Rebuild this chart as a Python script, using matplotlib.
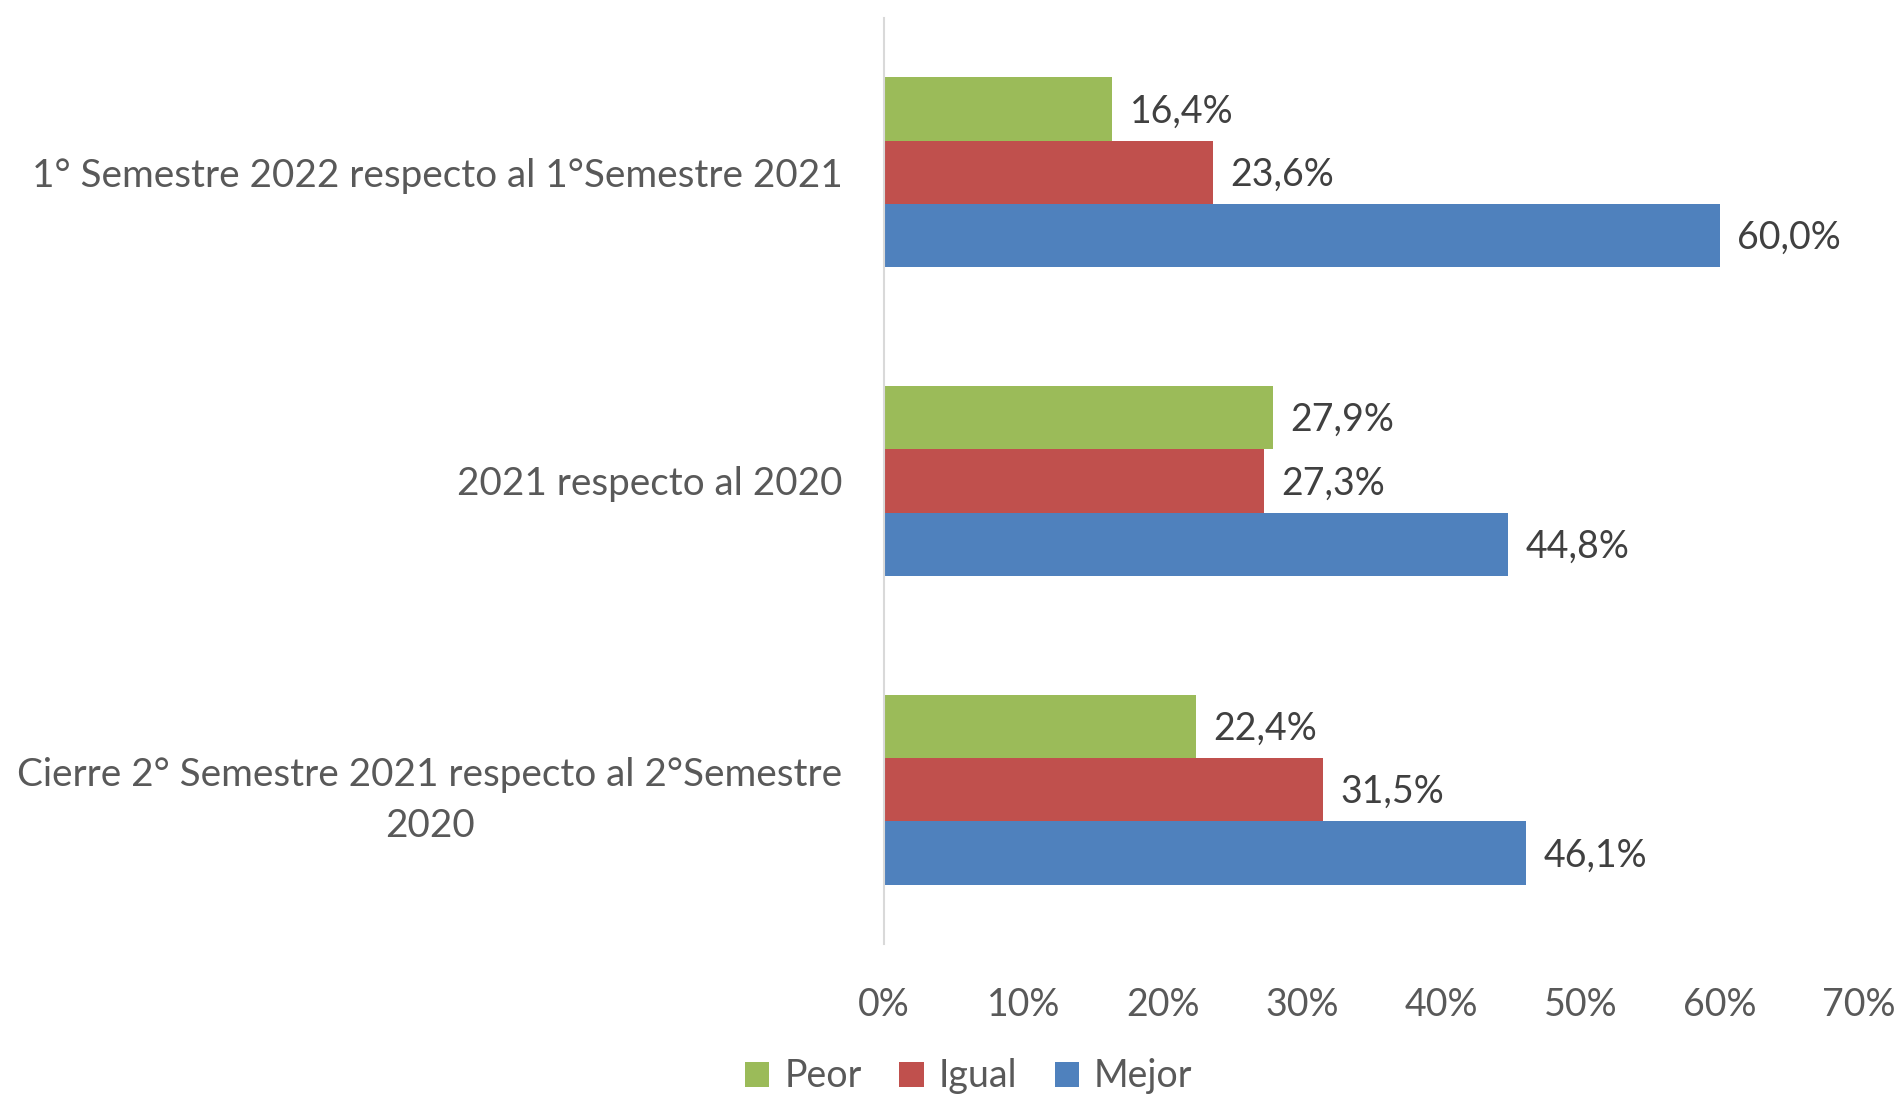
import matplotlib
matplotlib.use("Agg")
import matplotlib.pyplot as plt
import numpy as np

categories = ["1° Semestre 2022 respecto al 1°Semestre 2021",
              "2021 respecto al 2020",
              "Cierre 2° Semestre 2021 respecto al 2°Semestre\n2020"]
series_names = ["Peor", "Igual", "Mejor"]
peor = [16.4, 27.9, 22.4]
igual = [23.6, 27.3, 31.5]
mejor = [60.0, 44.8, 46.1]
xticks = [0, 10, 20, 30, 40, 50, 60, 70]

colors = ["#9BBB59", "#C0504D", "#4F81BD"]
text_color = "#404040"
plt.rcParams['font.family'] = ['Lato', 'DejaVu Sans']

fig = plt.figure(figsize=(19.03, 10.95), dpi=100)
ax = fig.add_axes([0.4645, 0.1379, 0.9769 - 0.4645, 0.9836 - 0.1379])

h = 0.205
y = np.arange(len(categories))
offsets = [-h, 0, h]
for vals, name, col, off in zip([peor, igual, mejor], series_names, colors, offsets):
    bars = ax.barh(y + off, vals, height=h, color=col, label=name, edgecolor='none')
    for b, v in zip(bars, vals):
        ax.text(b.get_width() + 1.25, b.get_y() + b.get_height() / 2 + 0.008,
                f"{v:.1f}%".replace('.', ','), va='center', ha='left',
                fontsize=27, color=text_color)

ax.set_ylim(len(categories) - 0.5, -0.5)
ax.set_xlim(0, 70)
ax.set_xticks(xticks)
ax.set_xticklabels([f"{t}%" for t in xticks], fontsize=27, color="#595959")
ax.set_yticks(y)
ax.set_yticklabels(categories, fontsize=27.8, color="#595959", multialignment='center',
                   linespacing=1.5)
ax.tick_params(axis='x', length=0, pad=31)
ax.tick_params(axis='y', length=0, pad=30)
for s in ['top', 'right', 'bottom']:
    ax.spines[s].set_visible(False)
ax.spines['left'].set_color('#D9D9D9')
ax.spines['left'].set_linewidth(1.5)

leg = fig.legend(loc='center', bbox_to_anchor=(0.509, 0.017), ncol=3, frameon=False,
                 fontsize=27, handlelength=0.65, handleheight=0.65, handletextpad=0.4,
                 columnspacing=1.0, labelcolor="#595959")

fig.savefig("out.png", dpi=100)
